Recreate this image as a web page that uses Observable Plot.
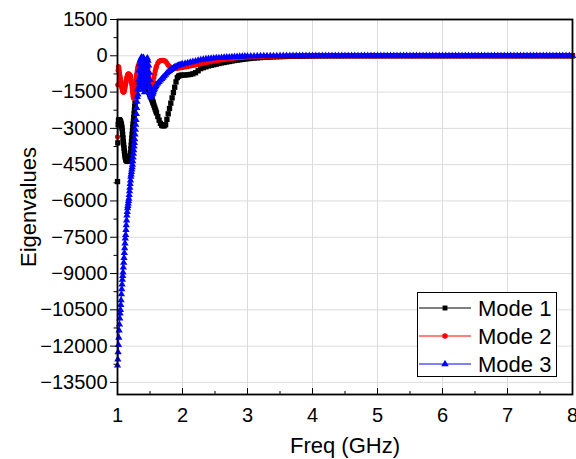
<!DOCTYPE html>
<html><head><meta charset="utf-8">
<script src="https://cdn.jsdelivr.net/npm/d3@7"></script>
<script src="https://cdn.jsdelivr.net/npm/@observablehq/plot@0.6"></script>
<style>
body{margin:0;background:#fff;}
#wrap{position:relative;width:576px;height:459px;font-family:"Liberation Sans",Arial,sans-serif;}
#legend{position:absolute;left:417px;top:292px;width:140px;height:85px;border:1px solid #000;background:#fff;box-sizing:border-box;}
</style></head><body><div id="wrap"></div>
<script>
// Frequency samples (GHz)
const freq = [
1,1.005,1.01,1.015,1.02,1.025,1.03,1.035,1.04,1.045,1.05,1.055,1.06,1.065,1.07,1.075,1.08,1.085,1.09,1.095,
1.1,1.105,1.11,1.115,1.12,1.125,1.13,1.135,1.14,1.145,1.15,1.155,1.16,1.165,1.17,1.175,1.18,1.185,1.19,1.195,
1.2,1.205,1.21,1.215,1.22,1.225,1.23,1.235,1.24,1.245,1.25,1.255,1.26,1.265,1.27,1.275,1.28,1.285,1.29,1.295,1.3,
1.305,1.31,1.315,1.32,1.325,1.33,1.335,1.34,1.345,1.35,1.355,1.36,1.365,1.37,1.375,1.38,1.385,1.39,1.395,1.4,
1.405,1.41,1.415,1.42,1.425,1.43,1.435,1.44,1.445,1.45,1.455,1.46,1.465,1.47,1.475,1.48,1.485,1.49,1.495,1.5,
1.505,1.51,1.515,1.52,1.525,1.53,1.535,1.54,1.545,1.55,
1.56,1.57,1.58,1.59,1.6,
1.62,1.64,1.66,1.68,1.7,1.72,1.74,1.76,1.78,1.8,1.82,1.84,1.86,1.88,1.9,1.92,1.94,1.96,1.98,2,
2.04,2.08,2.12,2.16,2.2,2.24,2.28,2.32,2.36,2.4,2.44,2.48,2.52,2.56,2.6,2.64,2.68,2.72,2.76,2.8,2.84,2.88,2.92,2.96,3,
3.05,3.1,3.15,3.2,3.25,3.3,3.35,3.4,3.45,3.5,
3.55,3.6,3.65,3.7,3.75,3.8,3.85,3.9,3.95,4,
4.05,4.1,4.15,4.2,4.25,4.3,4.35,4.4,4.45,4.5,
4.55,4.6,4.65,4.7,4.75,4.8,4.85,4.9,4.95,5,
5.05,5.1,5.15,5.2,5.25,5.3,5.35,5.4,5.45,5.5,
5.55,5.6,5.65,5.7,5.75,5.8,5.85,5.9,5.95,6,
6.05,6.1,6.15,6.2,6.25,6.3,6.35,6.4,6.45,6.5,
6.55,6.6,6.65,6.7,6.75,6.8,6.85,6.9,6.95,7,
7.05,7.1,7.15,7.2,7.25,7.3,7.35,7.4,7.45,7.5,
7.55,7.6,7.65,7.7,7.75,7.8,7.85,7.9,7.95,8
];
// Mode 1 eigenvalues
const mode1 = [
-5200,-3600,-2850,-2700,-2650,-2640,-2650,-2670,-2690,-2720,-2750,-2800,-2850,-2920,-3000,-3120,-3260,-3400,-3540,-3680,
-3810,-3930,-4040,-4130,-4200,-4260,-4300,-4320,-4335,-4340,-4345,-4345,-4345,-4345,-4345,-4345,-4340,-4320,-4260,-4150,
-4000,-3850,-3700,-3550,-3400,-3250,-3100,-2950,-2820,-2700,-2550,-2400,-2250,-2100,-1980,-1850,-1720,-1600,-1480,-1380,-1300,
-1240,-1200,-1160,-1130,-1100,-1080,-1060,-1050,-1045,-1040,-1045,-1050,-1065,-1080,-1100,-1120,-1140,-1160,-1180,-1200,
-1215,-1230,-1240,-1250,-1260,-1270,-1280,-1290,-1305,-1320,-1340,-1360,-1385,-1410,-1440,-1470,-1505,-1540,-1575,-1610,
-1645,-1680,-1710,-1740,-1770,-1800,-1840,-1880,-1920,-1960,
-2040,-2120,-2200,-2280,-2360,
-2510,-2660,-2790,-2870,-2900,-2890,-2850,-2630,-2400,-2180,-1960,-1740,-1520,-1300,-1080,-900,-840,-815,-805,-800,
-795,-785,-770,-745,-700,-620,-530,-490,-455,-420,-395,-370,-345,-320,-295,-275,-255,-235,-215,-195,-180,-165,-150,-135,-120,
-110,-95,-85,-75,-66,-58,-51,-45,-40,-35,
-31,-27,-23,-20,-17,-15,-13,-11,-9,-8,
-7,-6,-5,-5,-4,-4,-3,-3,-2,-2,
-1,-1,-1,-1,-1,-1,-1,-1,-1,-1,
0,0,0,0,0,0,0,0,0,0,
0,0,0,0,0,0,0,0,0,0,
0,0,0,0,0,0,0,0,0,0,
0,0,0,0,0,0,0,0,0,0,
0,0,0,0,0,0,0,0,0,0,
0,0,0,0,0,0,0,0,0,0
];
// Mode 2 eigenvalues
const mode2 = [
-3350,-1200,-600,-450,-500,-600,-700,-800,-880,-960,-1040,-1120,-1200,-1280,-1340,-1400,-1450,-1480,-1500,-1500,
-1480,-1430,-1370,-1300,-1230,-1160,-1090,-1020,-960,-900,-850,-810,-780,-760,-750,-760,-780,-790,-800,-820,
-860,-920,-1000,-1100,-1200,-1320,-1440,-1550,-1650,-1720,-1750,-1720,-1650,-1550,-1420,-1280,-1140,-1000,-880,-780,-700,
-600,-500,-900,-400,-1200,-500,-300,-800,-250,-1000,-400,-200,-700,-300,-1100,-500,-250,-900,-400,-1300,
-600,-300,-1000,-450,-800,-350,-1200,-600,-400,-900,-500,-1100,-700,-500,-1000,-800,-1200,-1100,-1300,-1250,
-1350,-1350,-1380,-1350,-1330,-1300,-1250,-1200,-1130,-1050,
-900,-760,-630,-520,-430,
-300,-230,-200,-190,-190,-200,-230,-300,-380,-440,-490,-520,-530,-530,-525,-515,-505,-495,-488,-480,
-460,-440,-420,-400,-380,-355,-330,-305,-280,-260,-240,-220,-200,-180,-165,-150,-135,-120,-108,-96,-85,-75,-66,-58,-50,
-44,-38,-33,-28,-24,-20,-17,-14,-12,-10,
-8,-7,-6,-5,-4,-3,-3,-2,-2,-1,
0,0,0,0,0,0,0,0,0,0,
0,0,0,0,0,0,0,0,0,0,
0,0,0,0,0,0,0,0,0,0,
0,0,0,0,0,0,0,0,0,0,
0,0,0,0,0,0,0,0,0,0,
0,0,0,0,0,0,0,0,0,0,
0,0,0,0,0,0,0,0,0,0,
0,0,0,0,0,0,0,0,0,0
];
// Mode 3 eigenvalues
const mode3 = [
-12800,-12550,-12250,-11950,-11650,-11350,-11100,-10850,-10650,-10500,-10300,-10100,-9850,-9650,-9450,-9250,-9100,-8950,-8750,-8550,
-8350,-8150,-7950,-7750,-7550,-7400,-7200,-7000,-6800,-6600,-6450,-6300,-6200,-6100,-6000,-5900,-5750,-5600,-5450,-5300,
-5150,-5000,-4900,-4800,-4700,-4600,-4500,-4350,-4200,-4050,-3900,-3750,-3600,-3450,-3250,-3050,-2850,-2650,-2400,-2150,-1900,
-1700,-1400,-1600,-1000,-1300,-600,-1100,-350,-900,-200,-1200,-120,-800,-60,-1000,-100,-1400,-300,-900,-80,
-1200,-400,-1500,-600,-1100,-500,-1300,-300,-900,-150,-1200,-100,-700,-200,-1000,-400,-1300,-700,-1500,-1000,
-1600,-1300,-1700,-1550,-1600,-1600,-1580,-1550,-1510,-1480,
-1420,-1360,-1300,-1240,-1190,
-1140,-1080,-1020,-960,-900,-840,-780,-720,-670,-620,-580,-540,-500,-470,-440,-420,-400,-380,-360,-345,
-320,-295,-270,-245,-220,-195,-170,-150,-135,-120,-110,-100,-92,-85,-78,-70,-62,-55,-48,-42,-36,-30,-26,-22,-18,
-15,-12,-10,-8,-6,-5,-4,-3,-2,-1,
0,0,0,0,0,0,0,0,0,0,
0,0,0,0,0,0,0,0,0,0,
0,0,0,0,0,0,0,0,0,0,
0,0,0,0,0,0,0,0,0,0,
0,0,0,0,0,0,0,0,0,0,
0,0,0,0,0,0,0,0,0,0,
0,0,0,0,0,0,0,0,0,0,
0,0,0,0,0,0,0,0,0,0,
0,0,0,0,0,0,0,0,0,0
];
const seriesNames = ["Mode 1", "Mode 2", "Mode 3"];
const seriesColors = ["#000000", "#ff0000", "#0000ff"];
const seriesSymbols = ["square", "circle", "triangle"];
const xTicks = [1, 2, 3, 4, 5, 6, 7, 8];
const xMinor = [1.5, 2.5, 3.5, 4.5, 5.5, 6.5, 7.5];
const yTicks = [1500, 0, -1500, -3000, -4500, -6000, -7500, -9000, -10500, -12000, -13500];
const yMinor = [750, -750, -2250, -3750, -5250, -6750, -8250, -9750, -11250, -12750];
const xLabel = "Freq (GHz)";
const yLabel = "Eigenvalues";

[mode1, mode2, mode3].forEach((m, i) => {
  if (m.length !== freq.length) throw new Error(`mode${i + 1} length ${m.length} != ${freq.length}`);
});

const series = [mode1, mode2, mode3].map((vals) => freq.map((f, i) => ({f, v: vals[i]})));
const symSize = [3.0, 2.6, 2.7];

const marks = [
  Plot.gridX(xTicks, {stroke: "#dcdcdc", strokeOpacity: 1}),
  Plot.gridY(yTicks, {stroke: "#dcdcdc", strokeOpacity: 1}),
];
series.forEach((d, i) => {
  marks.push(Plot.line(d, {x: "f", y: "v", stroke: seriesColors[i], strokeWidth: 1}));
  marks.push(Plot.dot(d, {x: "f", y: "v", symbol: seriesSymbols[i], r: symSize[i], fill: seriesColors[i], stroke: "none"}));
});
marks.push(
  Plot.frame({stroke: "#000", strokeWidth: 1.8}),
  Plot.axisX(xTicks, {tickSize: -6, tickPadding: 19, fontSize: 20, label: null, tickFormat: d3.format("d")}),
  Plot.axisX(xMinor, {tickSize: -3, tickFormat: () => "", label: null}),
  Plot.axisY(yTicks, {tickSize: 7, tickPadding: 3, fontSize: 20, label: null, tickFormat: d3.format("d")}),
  Plot.axisY(yMinor, {tickSize: 3.5, tickFormat: () => "", label: null}),
  Plot.text([yLabel], {frameAnchor: "left", rotate: -90, dx: -89, fontSize: 22, textAnchor: "middle", lineAnchor: "middle", text: d => d}),
  Plot.text([xLabel], {frameAnchor: "bottom", dy: 51, fontSize: 22, textAnchor: "middle", lineAnchor: "middle", text: d => d})
);

const chart = Plot.plot({
  width: 576, height: 459,
  marginLeft: 117, marginRight: 4, marginTop: 19, marginBottom: 65,
  x: {domain: [1, 8]},
  y: {domain: [-14000, 1500]},
  style: {fontFamily: "'Liberation Sans', Arial, sans-serif", fontSize: "20px", color: "#000", background: "#fff"},
  marks
});
const wrap = document.getElementById("wrap");
wrap.appendChild(chart);

// Legend
const leg = document.createElement("div");
leg.id = "legend";
const ls = d3.create("svg").attr("width", 140).attr("height", 85);
seriesNames.forEach((name, i) => {
  const yy = 15 + i * 28;
  ls.append("line").attr("x1", 1).attr("x2", 53).attr("y1", yy).attr("y2", yy).attr("stroke", seriesColors[i]).attr("stroke-width", 1);
  const symType = {square: d3.symbolSquare, circle: d3.symbolCircle, triangle: d3.symbolTriangle}[seriesSymbols[i]];
  ls.append("path").attr("d", d3.symbol(symType, 24)()).attr("transform", `translate(27,${yy})`).attr("fill", seriesColors[i]);
  ls.append("text").attr("x", 60).attr("y", yy).attr("dy", "0.36em").attr("font-size", 22)
    .attr("font-family", "'Liberation Sans', Arial, sans-serif").attr("fill", "#000").text(name);
});
leg.appendChild(ls.node());
wrap.appendChild(leg);
</script>
</body></html>
